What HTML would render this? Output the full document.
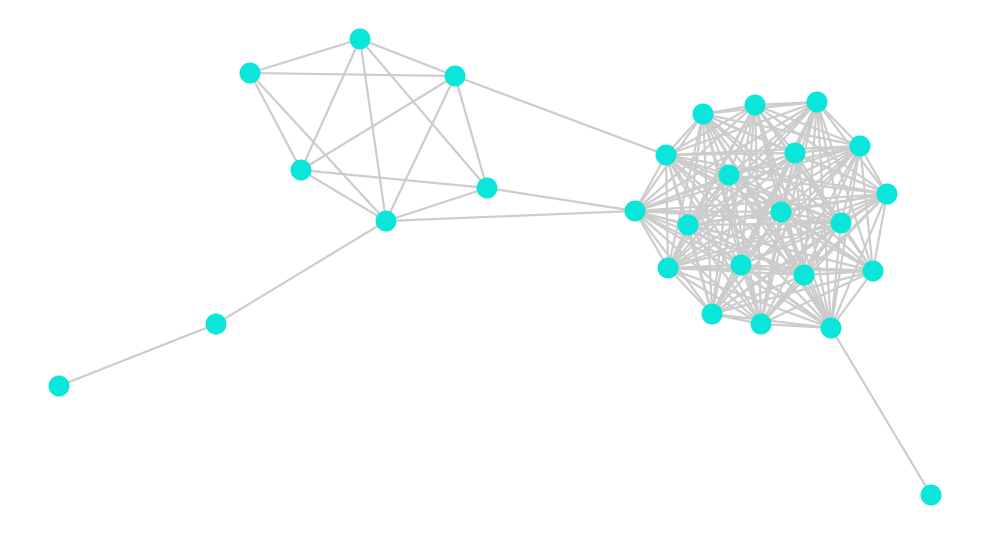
<!DOCTYPE html>
<html><head><meta charset="utf-8"><style>html,body{margin:0;padding:0;background:#fff;}svg{display:block}</style></head>
<body>
<svg id="g" width="1000" height="535" viewBox="0 0 1000 535" xmlns="http://www.w3.org/2000/svg">
<g id="edges" stroke="#cccccc" stroke-width="2.2" fill="none"></g>
<g id="nodes" fill="#0ae6da"></g>
</svg>
<script>
var L={A:[360,39],B:[250,73],C:[455,76],D:[301,170],E:[487,188],F:[386,221],G:[216,324],H:[59,386],Z:[931,495]};
var K=[[703,114],[755,105],[817,102],[666,155],[795,153],[860,146],[729,175],[887,194],[635,211],[688,225],[781,212],[841,223],[668,268],[741,265],[804,275],[873,271],[712,314],[761,324],[831,328]];
var E=[];
[["B","A"],["B","C"],["A","C"],["B","D"],["B","F"],["A","D"],["A","F"],["A","E"],["C","D"],["C","F"],["C","E"],["D","E"],["D","F"],["F","E"],["F","G"],["G","H"]].forEach(function(p){E.push([L[p[0]],L[p[1]]]);});
E.push([L.C,K[3]]);E.push([L.E,K[8]]);E.push([L.F,K[8]]);E.push([K[18],L.Z]);
for(var i=0;i<K.length;i++)for(var j=i+1;j<K.length;j++)E.push([K[i],K[j]]);
var ns="http://www.w3.org/2000/svg",eg=document.getElementById("edges"),ng=document.getElementById("nodes");
E.forEach(function(e){var l=document.createElementNS(ns,"line");l.setAttribute("x1",e[0][0]);l.setAttribute("y1",e[0][1]);l.setAttribute("x2",e[1][0]);l.setAttribute("y2",e[1][1]);eg.appendChild(l);});
var all=[];for(var k in L)all.push(L[k]);all=all.concat(K);
all.forEach(function(p){var c=document.createElementNS(ns,"circle");c.setAttribute("cx",p[0]);c.setAttribute("cy",p[1]);c.setAttribute("r",10.5);ng.appendChild(c);});
</script>
</body></html>
